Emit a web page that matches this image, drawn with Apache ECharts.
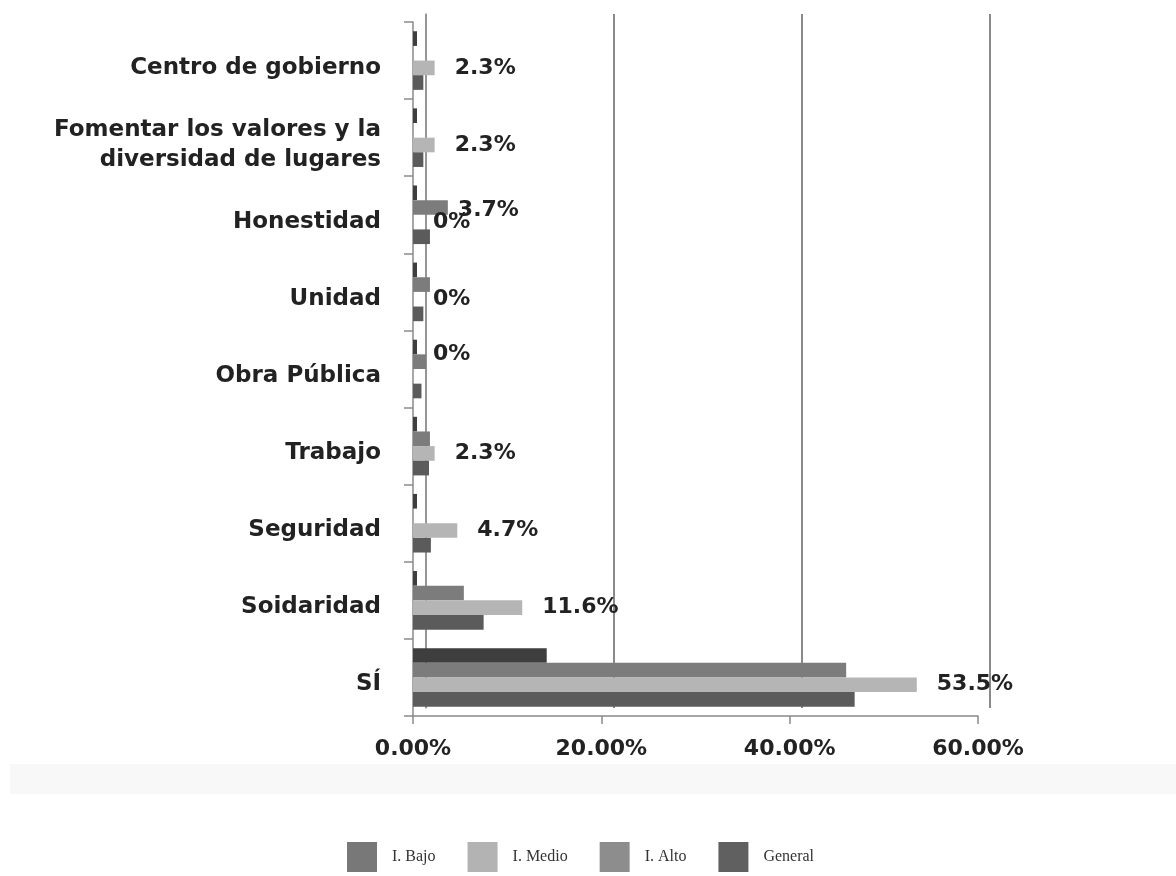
<!DOCTYPE html>
<html>
<head>
<meta charset="utf-8">
<script src="https://cdn.jsdelivr.net/npm/echarts@6/dist/echarts.min.js"></script>
<style>html,body{margin:0;padding:0;background:#fff;}#c{width:1176px;height:876px;}</style>
</head>
<body>
<div id="c"></div>
<script>
const categories = ["Centro de gobierno", "Fomentar los valores y la\ndiversidad de lugares", "Honestidad", "Unidad", "Obra Pública", "Trabajo", "Seguridad", "Soidaridad", "SÍ"];
const iAlto    = [0, 0, 0, 0, 0, 0, 0, 0, 14.2];
const iBajo    = [0, 0, 3.7, 1.8, 1.4, 1.8, 0, 5.4, 46.0];
const iMedio   = [2.3, 2.3, 0, 0, 0, 2.3, 4.7, 11.6, 53.5];
const general  = [1.1, 1.1, 1.8, 1.1, 0.9, 1.7, 1.9, 7.5, 46.9];
const xTicks = [0, 20, 40, 60];

const FONT = '"DejaVu Sans", sans-serif';
const fmt = v => (v === 0 ? '0%' : v.toFixed(1) + '%');
const labelStyle = {show: true, position: 'right', distance: 20, fontSize: 22, fontWeight: 'bold', color: '#222', fontFamily: FONT, formatter: p => fmt(p.value)};

const chart = echarts.init(document.getElementById('c'));
chart.setOption({
  backgroundColor: '#fff',
  animation: false,
  graphic: [{type: 'rect', shape: {x: 10, y: 764, width: 1166, height: 30}, style: {fill: '#f8f8f8'}, z: -10}],
  grid: [
    {left: 413, right: 198, top: 22, bottom: 160},
    {left: 426, right: 186, top: 14, bottom: 168}
  ],
  xAxis: [
    {gridIndex: 0, type: 'value', min: 0, max: 60, interval: 20,
     axisLine: {show: true, lineStyle: {color: '#8a8a8a', width: 1.5}},
     axisTick: {show: true, length: 8, lineStyle: {color: '#8a8a8a', width: 1.5}},
     splitLine: {show: false},
     axisLabel: {margin: 22, fontSize: 22, fontWeight: 'bold', color: '#222', fontFamily: FONT, formatter: v => v.toFixed(2) + '%'}},
    {gridIndex: 1, type: 'value', min: 0, max: 60, interval: 20,
     axisLine: {show: false}, axisTick: {show: false}, axisLabel: {show: false},
     splitLine: {show: true, lineStyle: {color: '#8a8a8a', width: 2}}}
  ],
  yAxis: [
    {gridIndex: 0, type: 'category', data: categories, inverse: true,
     axisLine: {show: true, lineStyle: {color: '#8a8a8a', width: 1.5}},
     axisTick: {show: true, length: 9, lineStyle: {color: '#8a8a8a', width: 1.5}},
     axisLabel: {margin: 32, color: '#222',
       formatter: v => '{s| }\n' + v.split('\n').map(l => '{a|' + l + '}').join('\n'),
       rich: {
         s: {fontSize: 8, lineHeight: 14},
         a: {fontSize: 23, lineHeight: 30, color: '#222', fontFamily: FONT, fontWeight: 'bold', align: 'right'}
       }}},
    {gridIndex: 1, type: 'category', data: categories, inverse: true,
     axisLine: {show: true, lineStyle: {color: '#9a9a9a', width: 1.5}},
     axisTick: {show: false}, axisLabel: {show: false}}
  ],
  legend: {
    left: 342, top: 837, itemWidth: 30, itemHeight: 30, itemGap: 32, icon: 'rect',
    textStyle: {fontFamily: '"Liberation Serif", serif', fontSize: 16, color: '#333', padding: [0, 0, 0, 10]},
    data: [
      {name: 'I. Bajo', itemStyle: {color: '#787878'}},
      {name: 'I. Medio', itemStyle: {color: '#b3b3b3'}},
      {name: 'I. Alto', itemStyle: {color: '#8d8d8d'}},
      {name: 'General', itemStyle: {color: '#606060'}}
    ]
  },
  series: [
    {name: 'I. Alto', type: 'bar', data: iAlto, barGap: '0%', barCategoryGap: '24%', barMinHeight: 4,
     itemStyle: {color: '#3e3e3e'}},
    {name: 'I. Bajo', type: 'bar', barGap: '0%', barCategoryGap: '24%',
     data: iBajo.map((v, i) => i === 2 ? {value: v, label: Object.assign({}, labelStyle, {distance: 10, offset: [0, 3]})} : v),
     itemStyle: {color: '#7c7c7c'}},
    {name: 'I. Medio', type: 'bar', barGap: '0%', barCategoryGap: '24%',
     data: iMedio.map((v, i) => i === 4 ? {value: v, label: {offset: [0, -22]}} : v),
     label: labelStyle,
     itemStyle: {color: '#b5b5b5'}},
    {name: 'General', type: 'bar', data: general, barGap: '0%', barCategoryGap: '24%',
     itemStyle: {color: '#5b5b5b'}}
  ]
});
</script>
</body>
</html>
